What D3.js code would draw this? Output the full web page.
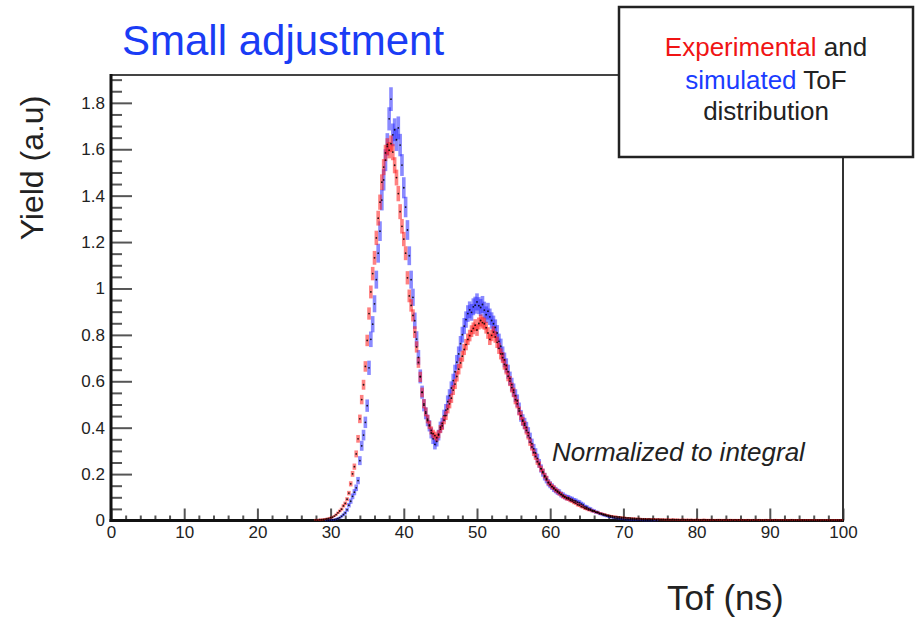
<!DOCTYPE html>
<html>
<head>
<meta charset="utf-8">
<script src="https://cdn.jsdelivr.net/npm/d3@7"></script>
<style>
  html, body { margin: 0; padding: 0; background: #fff; }
  svg { display: block; font-family: "Liberation Sans", Arial, Helvetica, sans-serif; }
</style>
</head>
<body>
<svg id="chart" width="916" height="619"></svg>
<script>
// Time-of-flight histograms, 0.25 ns bins starting at 28 ns (bin centres)
const binStart = 28.0;
const binWidth = 0.25;

// Experimental ToF yield (normalized to integral)
const expYield = [
  0.003,0.002,0.004,0.004,0.005,0.006,0.008,0.009,
  0.012,0.014,0.019,0.025,0.033,0.041,0.049,0.063,
  0.074,0.092,0.118,0.158,0.201,0.232,0.287,0.352,
  0.438,0.521,0.585,0.664,0.776,0.892,0.985,1.064,
  1.132,1.218,1.303,1.372,1.458,1.523,1.584,1.612,
  1.596,1.624,1.588,1.531,1.478,1.409,1.331,1.268,
  1.213,1.152,1.046,0.968,0.927,0.884,0.812,0.748,
  0.681,0.619,0.552,0.503,0.468,0.437,0.412,0.388,
  0.374,0.366,0.357,0.372,0.394,0.408,0.433,0.452,
  0.481,0.503,0.527,0.562,0.588,0.621,0.652,0.679,
  0.708,0.737,0.758,0.781,0.797,0.816,0.828,0.842,
  0.821,0.849,0.862,0.853,0.848,0.831,0.808,0.781,
  0.798,0.812,0.791,0.768,0.742,0.718,0.702,0.673,
  0.652,0.622,0.601,0.573,0.552,0.521,0.503,0.472,
  0.452,0.428,0.411,0.388,0.366,0.338,0.317,0.293,
  0.276,0.254,0.241,0.223,0.211,0.193,0.181,0.164,
  0.156,0.146,0.141,0.131,0.126,0.117,0.113,0.104,
  0.101,0.095,0.093,0.087,0.084,0.078,0.075,0.068,
  0.066,0.060,0.058,0.052,0.050,0.046,0.045,0.041,
  0.040,0.036,0.035,0.031,0.030,0.027,0.026,0.023,
  0.022,0.020,0.019,0.017,0.017,0.015,0.015,0.013,
  0.013,0.012,0.011,0.011,0.010,0.009,0.009,0.008,
  0.008,0.008,0.007,0.007,0.007,0.006,0.007,0.006,
  0.006,0.006,0.005,0.006,0.005,0.005,0.005,0.004,
  0.005,0.004,0.004,0.005,0.004,0.004,0.004,0.003,
  0.004,0.004,0.003,0.004,0.003,0.004,0.003,0.003,
  0.004,0.003,0.003,0.003,0.004,0.003,0.003,0.003,
  0.003,0.003,0.002,0.003,0.003,0.003,0.002,0.003,
  0.003,0.002,0.003,0.003,0.002,0.003,0.002,0.003,
  0.002,0.003,0.002,0.002,0.003,0.002,0.002,0.003,
  0.002,0.002,0.003,0.002,0.002,0.002,0.003,0.002,
  0.002,0.002,0.002,0.003,0.002,0.002,0.002,0.002,
  0.002,0.002,0.002,0.002,0.003,0.002,0.002,0.002,
  0.002,0.002,0.001,0.002,0.002,0.002,0.002,0.002,
  0.002,0.002,0.002,0.001,0.002,0.002,0.002,0.002,
  0.002,0.001,0.002,0.002,0.002,0.002,0.001,0.002
];

// Simulated ToF yield (normalized to integral)
const simYield = [
  0,0,0,0,0,0,0.001,0.001,
  0.002,0.003,0.004,0.006,0.009,0.012,0.018,0.025,
  0.033,0.046,0.066,0.083,0.104,0.122,0.141,0.172,
  0.258,0.322,0.368,0.423,0.495,0.658,0.781,0.846,
  0.934,1.038,1.152,1.247,1.381,1.468,1.553,1.621,
  1.731,1.816,1.662,1.684,1.641,1.692,1.618,1.532,
  1.434,1.351,1.252,1.141,1.038,0.962,0.861,0.782,
  0.703,0.621,0.553,0.497,0.462,0.431,0.408,0.377,
  0.352,0.328,0.341,0.368,0.402,0.418,0.452,0.476,
  0.512,0.538,0.571,0.603,0.641,0.682,0.718,0.762,
  0.801,0.838,0.866,0.892,0.908,0.897,0.921,0.928,
  0.942,0.926,0.918,0.931,0.907,0.887,0.902,0.878,
  0.862,0.848,0.832,0.808,0.772,0.751,0.718,0.692,
  0.668,0.641,0.612,0.586,0.562,0.538,0.516,0.482,
  0.451,0.433,0.418,0.401,0.379,0.356,0.331,0.309,
  0.291,0.268,0.246,0.224,0.206,0.189,0.176,0.163,
  0.154,0.146,0.137,0.131,0.124,0.121,0.112,0.109,
  0.103,0.099,0.098,0.093,0.091,0.086,0.084,0.079,
  0.077,0.071,0.067,0.059,0.057,0.051,0.049,0.043,
  0.041,0.036,0.035,0.030,0.028,0.024,0.022,0.019,
  0.017,0.015,0.013,0.011,0.010,0.009,0.008,0.007,
  0.006,0.005,0.005,0.004,0.004,0.003,0.003,0.003,
  0.002,0.002,0.002,0.001,0.001,0.001,0.001,0.001,
  0.001,0,0.001,0,0,0,0,0
];

// Statistical error scale of each sample (sigma = k * sqrt(yield))
const expErrScale = 0.028;
const simErrScale = 0.038;

// Axis ticks and labels
const xTicks = [0, 10, 20, 30, 40, 50, 60, 70, 80, 90, 100];
const yTicks = [0, 0.2, 0.4, 0.6, 0.8, 1, 1.2, 1.4, 1.6, 1.8];
const yTickLabels = ["0", "0.2", "0.4", "0.6", "0.8", "1", "1.2", "1.4", "1.6", "1.8"];

const svg = d3.select("#chart");
svg.append("rect").attr("width", 916).attr("height", 619).attr("fill", "#fff");

const x = d3.scaleLinear().domain([0, 100]).range([111, 843]);
const y = d3.scaleLinear().domain([0, 1.92]).range([520.5, 75]);

// Minor tick positions
const yMinor = d3.range(0, 39).filter(i => i % 4 !== 0).map(i => i * 0.05);
const xMinor = d3.range(0, 101, 2).filter(v => v % 10 !== 0);

function styleAxis(g) {
  g.select(".domain").remove();
  g.selectAll(".tick line").attr("stroke", "#555").attr("stroke-width", 2);
  g.selectAll(".tick text").attr("fill", "#222").attr("font-size", 17)
    .attr("font-family", "\"Liberation Sans\", Arial, sans-serif");
}

// Y axis: ticks point into the frame
svg.append("g").attr("transform", `translate(${x(0)},0)`)
  .call(d3.axisLeft(y).tickValues(yMinor).tickSize(-11).tickFormat(""))
  .call(styleAxis);
svg.append("g").attr("transform", `translate(${x(0)},0)`)
  .call(d3.axisLeft(y).tickValues(yTicks).tickSize(-21).tickPadding(6)
    .tickFormat((d, i) => yTickLabels[i]))
  .call(styleAxis);

// X axis
svg.append("g").attr("transform", `translate(0,${y(0)})`)
  .call(d3.axisBottom(x).tickValues(xMinor).tickSize(-5).tickFormat(""))
  .call(styleAxis);
svg.append("g").attr("transform", `translate(0,${y(0)})`)
  .call(d3.axisBottom(x).tickValues(xTicks).tickSize(-12).tickPadding(5)
    .tickFormat(d3.format("d")))
  .call(styleAxis);

// Frame
const frame = svg.append("g");
frame.append("line").attr("x1", x(0)).attr("x2", x(100)).attr("y1", y(1.92)).attr("y2", y(1.92))
  .attr("stroke", "#444").attr("stroke-width", 2);
frame.append("line").attr("x1", x(100)).attr("x2", x(100)).attr("y1", y(1.92)).attr("y2", y(0))
  .attr("stroke", "#333").attr("stroke-width", 2);
frame.append("line").attr("x1", x(0)).attr("x2", x(0)).attr("y1", y(1.92) - 1).attr("y2", y(0) + 1.5)
  .attr("stroke", "#111").attr("stroke-width", 3);
frame.append("line").attr("x1", x(0) - 1.5).attr("x2", x(100) + 1).attr("y1", y(0)).attr("y2", y(0))
  .attr("stroke", "#111").attr("stroke-width", 3);

// Histogram with error boxes and point markers
function toBins(values, k) {
  return values.map((v, i) => ({ t: binStart + i * binWidth, v, s: k * Math.sqrt(v) }))
    .filter(d => d.v > 0);
}
const simBins = toBins(simYield, simErrScale);
const expBins = toBins(expYield, expErrScale);

function drawErrors(bins, color) {
  svg.append("g").selectAll("rect").data(bins).join("rect")
    .attr("x", d => x(d.t) - 1.8)
    .attr("width", 3.6)
    .attr("y", d => Math.min(y(d.v + d.s), y(d.v) - 0.9))
    .attr("height", d => Math.max(y(d.v - d.s) - y(d.v + d.s), 1.8))
    .attr("fill", color)
    .attr("fill-opacity", 0.55);
}
drawErrors(simBins, "#2a2aff");
drawErrors(expBins, "#ff1a1a");

svg.append("g").selectAll("circle").data(simBins.concat(expBins)).join("circle")
  .attr("cx", d => x(d.t))
  .attr("cy", d => y(d.v))
  .attr("r", 0.9)
  .attr("fill", "#000")
  .attr("fill-opacity", 0.85);

// Titles and annotations
svg.append("text").attr("x", 122).attr("y", 55)
  .attr("font-size", 42).attr("fill", "#1a3cf5").text("Small adjustment");

svg.append("text").attr("transform", "translate(43,168) rotate(-90)")
  .attr("text-anchor", "middle").attr("font-size", 32).attr("fill", "#222")
  .text("Yield (a.u)");

svg.append("text").attr("x", 667).attr("y", 610)
  .attr("font-size", 35).attr("fill", "#222").text("Tof (ns)");

svg.append("text").attr("x", 552).attr("y", 461)
  .attr("font-size", 26).attr("font-style", "italic").attr("fill", "#222")
  .text("Normalized to integral");

// Legend box
const legend = svg.append("g");
legend.append("rect").attr("x", 619).attr("y", 7).attr("width", 294).attr("height", 150)
  .attr("fill", "#fff").attr("stroke", "#222").attr("stroke-width", 2.5);
const lines = [
  [["Experimental", "#f01414"], [" and", "#222"]],
  [["simulated", "#1a3cff"], [" ToF", "#222"]],
  [["distribution", "#222"]]
];
const baselines = [56, 89, 120];
lines.forEach((parts, i) => {
  const t = legend.append("text").attr("x", 766).attr("y", baselines[i])
    .attr("text-anchor", "middle").attr("font-size", 26);
  parts.forEach(([s, c]) => t.append("tspan").attr("fill", c).text(s));
});
</script>
</body>
</html>
